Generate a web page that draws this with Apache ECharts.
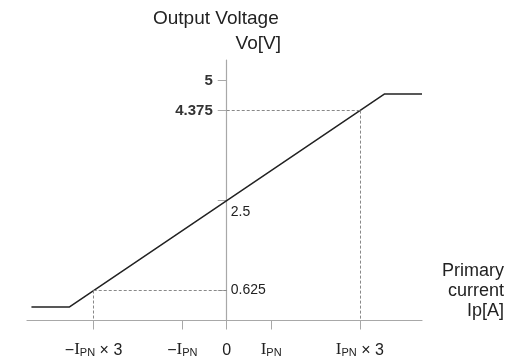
<!DOCTYPE html>
<html><head><meta charset="utf-8">
<script src="https://cdn.jsdelivr.net/npm/echarts@6/dist/echarts.min.js"></script>
<style>html,body{margin:0;padding:0;background:#fff}#c{width:508px;height:360px}</style>
</head><body><div id="c"></div>
<script>
// Data
var transferCurve = [[-4.4, 0.28], [-3.55, 0.28], [3.55, 4.72], [4.4, 4.72]];
var xTicks = [-3, -1, 0, 1, 3];
var xTickLabels = {
  '-3': '{t|−}{i|I}{s|PN}{t| × 3}',
  '-1': '{t|−}{i|I}{s|PN}',
  '0': '{t|0}',
  '1': '{i|I}{s|PN}',
  '3': '{i|I}{s|PN}{t| × 3}'
};
var yTicks = [0.625, 2.5, 4.375, 5];
var yLeftLabels = [5, 4.375];
var yRightLabels = [2.5, 0.625];
var refPoints = [[-3, 0.625], [3, 4.375]];
var xMin = -4.5, xMax = 4.4, yMin = 0, yMax = 5.43;

var FONT = '"Liberation Sans", Arial, sans-serif';
var W = 508, gridLeft = 27, gridRight = 86;
var gridW = W - gridLeft - gridRight;
var zeroOffset = -gridW * (0 - xMin) / (xMax - xMin);

var chart = echarts.init(document.getElementById('c'));
var markData = [];
refPoints.forEach(function (p) {
  markData.push([{ coord: [0, p[1]] }, { coord: [p[0], p[1]] }]);
  markData.push([{ coord: [p[0], p[1]] }, { coord: [p[0], 0] }]);
});
chart.setOption({
  animation: false,
  backgroundColor: '#fff',
  grid: { left: gridLeft, right: gridRight, top: 60, bottom: 39.5, containLabel: false, outerBoundsMode: 'none' },
  xAxis: {
    type: 'value', min: xMin, max: xMax,
    splitLine: { show: false },
    axisLine: { onZero: false, lineStyle: { color: '#a8a8a8', width: 1.2 } },
    axisTick: { customValues: xTicks, length: 9, lineStyle: { color: '#a8a8a8' } },
    axisLabel: {
      customValues: xTicks, margin: 18,
      formatter: function (v) { return xTickLabels[String(v)]; },
      rich: {
        t: { fontFamily: FONT, fontSize: 16, color: '#222', verticalAlign: 'bottom', lineHeight: 20 },
        i: { fontFamily: '"Liberation Serif", serif', fontSize: 17, color: '#222', verticalAlign: 'bottom', lineHeight: 20 },
        s: { fontFamily: FONT, fontSize: 11, color: '#222', verticalAlign: 'bottom', lineHeight: 15 }
      }
    }
  },
  yAxis: [{
    type: 'value', min: yMin, max: yMax, offset: zeroOffset,
    splitLine: { show: false },
    axisLine: { onZero: false, lineStyle: { color: '#a8a8a8', width: 1.2 } },
    axisTick: { customValues: yTicks, length: 9, lineStyle: { color: '#a8a8a8' } },
    axisLabel: { customValues: yLeftLabels, margin: 14, fontFamily: FONT, fontSize: 15, fontWeight: 'bold', color: '#333' }
  }, {
    type: 'value', min: yMin, max: yMax, position: 'left', offset: zeroOffset,
    splitLine: { show: false },
    axisLine: { show: false, onZero: false },
    axisTick: { show: false },
    axisLabel: {
      customValues: yRightLabels, inside: true, margin: 4,
      formatter: function (v) { return v === 2.5 ? '{lo|2.5}' : '{n|' + v + '}'; },
      rich: {
        lo: { fontFamily: FONT, fontSize: 14, color: '#222', padding: [24, 0, 0, 0] },
        n: { fontFamily: FONT, fontSize: 14, color: '#222' }
      }
    }
  }],
  graphic: [
    { type: 'text', x: 153, y: 18.7, style: { text: 'Output Voltage', fontFamily: FONT, fontSize: 19, fill: '#222', textAlign: 'left', textVerticalAlign: 'middle' } },
    { type: 'text', x: 281, y: 43.7, style: { text: 'Vo[V]', fontFamily: FONT, fontSize: 19, fill: '#222', textAlign: 'right', textVerticalAlign: 'middle' } },
    { type: 'text', x: 504, y: 291, style: { text: 'Primary\ncurrent\nIp[A]', fontFamily: FONT, fontSize: 18, lineHeight: 20, fill: '#222', textAlign: 'right', textVerticalAlign: 'middle' } }
  ],
  series: [{
    type: 'line', data: transferCurve, symbol: 'none',
    lineStyle: { color: '#222', width: 1.5 },
    markLine: {
      silent: true, symbol: 'none', label: { show: false },
      lineStyle: { color: '#888', width: 1, type: [3, 2] },
      data: markData
    }
  }]
});
</script></body></html>
